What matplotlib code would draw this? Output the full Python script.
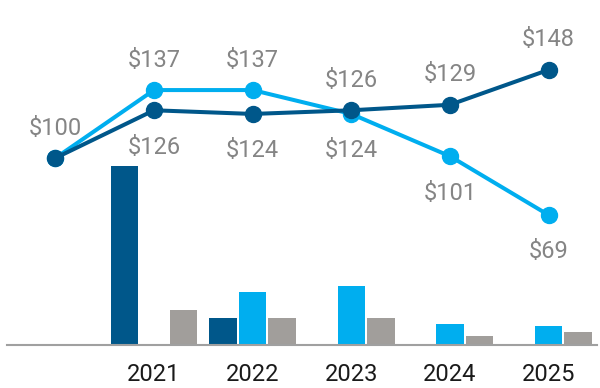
import matplotlib
matplotlib.use("Agg")
import matplotlib.pyplot as plt
import numpy as np

plt.rcParams['font.family'] = ['Roboto', 'DejaVu Sans']

# Donnees
years = ['', '2021', '2022', '2023', '2024', '2025']
line_dark = [100, 126, 124, 126, 129, 148]
line_light = [100, 137, 137, 124, 101, 69]
# position des etiquettes : +1 au-dessus, -1 en dessous
pos_dark = [1, -1, -1, 1, 1, 1]
pos_light = [1, 1, 1, -1, -1, -1]

bar_years = [1, 2, 3, 4, 5]
bars_dark = [179, 27, 0, 0, 0]
bars_light = [0, 53, 59, 21, 19]
bars_gray = [35, 27, 27, 9, 13]

c_dark = '#00578A'
c_light = '#00AEEF'
c_gray = '#A19E9B'
c_text = '#858585'

fig = plt.figure(figsize=(6, 3.88), dpi=100)
ax = fig.add_axes([7/600, 43/388, 590/600, 345/388])

x = np.array(bar_years)
w = 0.28
ax.bar(x - 0.30, bars_dark, w, color=c_dark)
ax.bar(x, bars_light, w, color=c_light)
ax.bar(x + 0.30, bars_gray, w, color=c_gray)
ax.set_ylim(0, 345)
ax.set_xlim(-0.49, 5.49)

for s in ['top', 'right', 'left']:
    ax.spines[s].set_visible(False)
ax.spines['bottom'].set_color('#A0A0A0')
ax.spines['bottom'].set_linewidth(1.5)
ax.set_yticks([])
ax.set_xticks(range(len(years)))
ax.set_xticklabels(years, fontsize=17, color='#1A1A1A')
ax.tick_params(axis='x', length=0, pad=13)

# Courbes
ax2 = ax.twinx()
ax2.set_ylim(-1.7, 186)
ax2.axis('off')
xl = np.arange(len(years))
ax2.plot(xl, line_light, color=c_light, lw=2.9, marker='o', ms=11.5, zorder=3)
ax2.plot(xl, line_dark, color=c_dark, lw=2.9, marker='o', ms=11.5, zorder=4)

for vals, pos in [(line_dark, pos_dark), (line_light, pos_light)]:
    for i, (v, p) in enumerate(zip(vals, pos)):
        if i == 0 and vals is line_light:
            continue
        ax2.annotate(f'${v}', (i, v), xytext=(0, 24 * p - 2.5), textcoords='offset points',
                     ha='center', va='center', fontsize=17, color=c_text)

fig.savefig('out.png', dpi=100)
